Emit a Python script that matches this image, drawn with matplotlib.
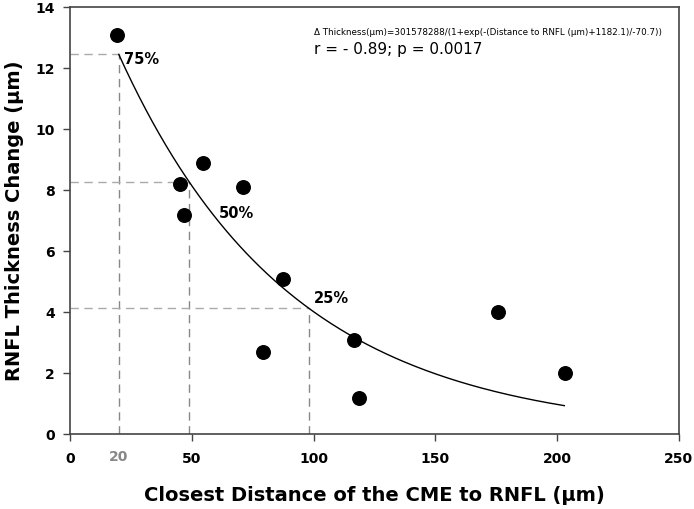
import numpy as np
import matplotlib
matplotlib.use("Agg")
import matplotlib.pyplot as plt

plt.rcParams['font.family'] = ['DejaVu Sans']

# measured points
distance = [19.2, 45.2, 46.6, 54.5, 71.2, 79.2, 87.6, 116.8, 118.5, 175.7, 203.4]
thickness = [13.1, 8.2, 7.2, 8.9, 8.1, 2.7, 5.1, 3.1, 1.2, 4.0, 2.0]

# fitted sigmoid from the figure
a_fit, x0_fit, b_fit = 301578288, 1182.1, -70.7
fit_range = (20, 203)

# quartile markers
q_x = [20, 49, 98]
q_labels = ["75%", "50%", "25%"]
q_text_pos = [(22, 12.15), (61, 7.1), (100, 4.3)]

xticks = [0, 50, 100, 150, 200, 250]
yticks = [0, 2, 4, 6, 8, 10, 12, 14]


def model(x):
    return a_fit / (1 + np.exp(-(x + x0_fit) / b_fit))


fig = plt.figure(figsize=(6.94, 5.09), dpi=100)
ax = fig.add_axes([0.101, 0.147, 0.877, 0.839])

for xq in q_x:
    yq = model(xq)
    ax.plot([0, xq], [yq, yq], "--", color="#aaaaaa", lw=1, dashes=(6, 4))
    ax.plot([xq, xq], [0, yq], "--", color="#888888", lw=1, dashes=(6, 4))

xf = np.linspace(*fit_range, 200)
ax.plot(xf, model(xf), color="black", lw=1)

ax.scatter(distance, thickness, s=95, color="black", zorder=3)

for lab, (tx, ty) in zip(q_labels, q_text_pos):
    ax.text(tx, ty, lab, fontsize=10.5, fontweight="bold")

ax.text(100, 13.1, "Δ Thickness(μm)=301578288/(1+exp(-(Distance to RNFL (μm)+1182.1)/-70.7))",
        fontsize=6.3)
ax.text(100, 12.45, "r = - 0.89; p = 0.0017", fontsize=11)

ax.set_xlim(0, 250)
ax.set_ylim(0, 14)
ax.set_xticks(xticks)
ax.set_yticks(yticks)
ax.set_xticks([20], minor=True)
ax.set_xticklabels(["20"], minor=True)
ax.tick_params(direction="out", length=5, width=1, colors="#444444",
               labelcolor="black", labelsize=10)
ax.tick_params(axis="x", pad=8)
ax.tick_params(axis="y", pad=6)
ax.tick_params(axis="x", which="minor", length=0, pad=11.6,
               labelcolor="#888888", labelsize=10)
for lbl in ax.get_xticklabels(which="both") + ax.get_yticklabels():
    lbl.set_fontweight("bold")
for sp in ax.spines.values():
    sp.set_color("#444444")
    sp.set_linewidth(1.2)

ax.set_xlabel("Closest Distance of the CME to RNFL (μm)", fontsize=14,
              fontweight="bold", labelpad=14)
ax.set_ylabel("RNFL Thickness Change (μm)", fontsize=14, fontweight="bold",
              labelpad=8)

fig.savefig("out.png", dpi=100)
